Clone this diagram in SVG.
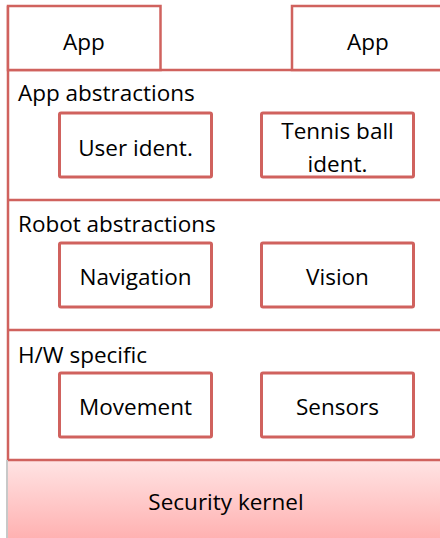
<svg xmlns="http://www.w3.org/2000/svg" width="440" height="538" viewBox="0 0 440 538">
  <style>
    .frame { fill: #ffffff; stroke: #d0625e; stroke-width: 2.5; }
    .line { stroke: #d0625e; stroke-width: 2.5; fill: none; }
    .box { fill: #ffffff; stroke: #d0625e; stroke-width: 3; }
    .label { font-family: "Open Sans", "Liberation Sans", sans-serif; font-size: 22.5px; fill: #000000; }
    .mid { text-anchor: middle; }
  </style>
  <defs>
    <linearGradient id="kernelFill" x1="0" y1="0" x2="0" y2="1">
      <stop offset="0" stop-color="#ffe4e4"/>
      <stop offset="1" stop-color="#ffb0b0"/>
    </linearGradient>
  </defs>

  <rect width="440" height="538" fill="#ffffff"/>

  <!-- security kernel band -->
  <g id="kernel">
    <rect x="8" y="460" width="440" height="80" fill="url(#kernelFill)"/>
    <line x1="7" y1="460" x2="7" y2="538" stroke="#c8c8c8" stroke-width="2"/>
    <text class="label mid" x="226" y="510">Security kernel</text>
  </g>

  <!-- layer frame -->
  <g id="layers">
    <line class="line" x1="8" y1="6" x2="8" y2="460"/>
    <line class="line" x1="8" y1="70" x2="442" y2="70"/>
    <line class="line" x1="8" y1="200" x2="442" y2="200"/>
    <line class="line" x1="8" y1="330" x2="442" y2="330"/>
    <line class="line" x1="8" y1="460" x2="442" y2="460"/>
  </g>

  <g id="app-left">
    <rect class="frame" x="8" y="6" width="152.5" height="64"/>
    <text class="label mid" x="84" y="50">App</text>
  </g>
  <g id="app-right">
    <rect class="frame" x="292" y="6" width="152" height="64"/>
    <text class="label mid" x="368" y="50">App</text>
  </g>

  <g id="app-abstractions">
    <text class="label" x="18" y="101">App abstractions</text>
  </g>
  <g id="user-ident">
    <rect class="box" x="59.5" y="113" width="152" height="64" rx="1.5"/>
    <text class="label mid" x="135.5" y="156">User ident.</text>
  </g>
  <g id="tennis-ball-ident">
    <rect class="box" x="261.5" y="113" width="152" height="64" rx="1.5"/>
    <text class="label mid" x="337.5" y="139">Tennis ball</text>
    <text class="label mid" x="337.5" y="172">ident.</text>
  </g>

  <g id="robot-abstractions">
    <text class="label" x="18" y="232">Robot abstractions</text>
  </g>
  <g id="navigation">
    <rect class="box" x="59.5" y="243" width="152" height="64" rx="1.5"/>
    <text class="label mid" x="135.5" y="285">Navigation</text>
  </g>
  <g id="vision">
    <rect class="box" x="261.5" y="243" width="152" height="64" rx="1.5"/>
    <text class="label mid" x="337.5" y="285">Vision</text>
  </g>

  <g id="hw-specific">
    <text class="label" x="18" y="363">H/W specific</text>
  </g>
  <g id="movement">
    <rect class="box" x="59.5" y="373" width="152" height="64" rx="1.5"/>
    <text class="label mid" x="135.5" y="415">Movement</text>
  </g>
  <g id="sensors">
    <rect class="box" x="261.5" y="373" width="152" height="64" rx="1.5"/>
    <text class="label mid" x="337.5" y="415">Sensors</text>
  </g>
</svg>
